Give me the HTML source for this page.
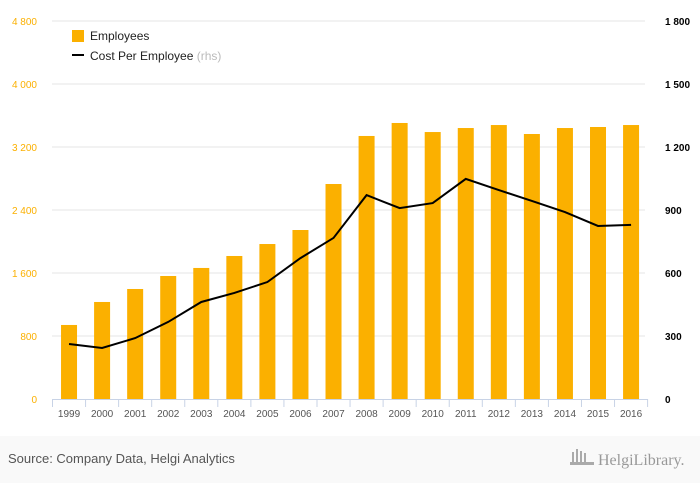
<!DOCTYPE html>
<html><head><meta charset="utf-8"><style>
body{margin:0;width:700px;height:483px;background:#fff;font-family:"Liberation Sans",sans-serif;overflow:hidden}
svg{display:block}
</style></head><body>
<svg id="c" width="700" height="483">
<rect x="0" y="436" width="700" height="47" fill="#f9f9f9"/>
<g id="grid"></g><g id="bars"></g><g id="line"></g><g id="axes"></g>
<g>
<rect x="72" y="30" width="12" height="12" fill="#fbb000"/>
<text x="90" y="40" font-size="12" fill="#222">Employees</text>
<line x1="72" y1="55" x2="84" y2="55" stroke="#000" stroke-width="2"/>
<text x="90" y="60" font-size="12" fill="#222">Cost Per Employee <tspan fill="#bbb">(rhs)</tspan></text>
</g>
<text x="8" y="463" font-size="13" fill="#555">Source: Company Data, Helgi Analytics</text>
<text x="598" y="465" font-size="16" fill="#999" font-family="Liberation Serif,serif">HelgiLibrary.</text>
<g fill="#aaa"><rect x="572" y="452" width="2" height="12"/><rect x="576" y="449" width="2" height="15"/><rect x="580" y="451" width="2" height="13"/><rect x="584" y="453" width="2" height="11"/><rect x="570" y="462" width="24" height="3"/></g>
</svg>
<script>
const years=["1999","2000","2001","2002","2003","2004","2005","2006","2007","2008","2009","2010","2011","2012","2013","2014","2015","2016"];
const employees=[940,1232,1397,1562,1664,1816,1968,2146,2730,3340,3505,3390,3441,3479,3365,3441,3454,3479];
const costPerEmployee=[262,243,290,367,462,505,557,671,767,971,909,933,1048,995,943,890,824,829];
const leftTicks=[0,800,1600,2400,3200,4000,4800];
const rightTicks=[0,300,600,900,1200,1500,1800];
const NS="http://www.w3.org/2000/svg";
const x0=52.5,x1=647.6,yTop=21,yBot=399;
const step=(x1-x0)/years.length;
const xC=i=>x0+step*(i+0.5);
const yL=v=>yBot-(v/4800)*(yBot-yTop);
const yR=v=>yBot-(v/1800)*(yBot-yTop);
function mk(tag,attrs,parent){const e=document.createElementNS(NS,tag);for(const k in attrs)e.setAttribute(k,attrs[k]);document.getElementById(parent).appendChild(e);return e;}
leftTicks.forEach((t,i)=>{
  if(t>0){const g=mk('line',{x1:52,x2:645,y1:yL(t),y2:yL(t),stroke:'#e6e6e6'},'grid');
  
  }
  const tx=mk('text',{x:37,y:yL(t)+4,'font-size':10,fill:'#fbb000','text-anchor':'end'},'axes');
  tx.textContent=t===0?'0':t.toLocaleString('en-US').replace(',',' ');
  
  
});
rightTicks.forEach(t=>{
  const tx=mk('text',{x:665,y:yR(t)+4,'font-size':10,fill:'#000','font-weight':'bold','text-anchor':'start'},'axes');
  tx.textContent=t>=1000?t.toLocaleString('en-US').replace(',',' '):String(t);
  
  
});
employees.forEach((v,i)=>{
  const r=mk('rect',{x:xC(i)-8,y:yL(v),width:16,height:yBot-yL(v),fill:'#fbb000'},'bars');
  
  
  const tx=mk('text',{x:xC(i),y:417,'font-size':10,fill:'#555','text-anchor':'middle'},'axes');
  tx.textContent=years[i];
  
  
});
const ax=mk('line',{x1:x0,x2:x1,y1:yBot+0.5,y2:yBot+0.5,stroke:'#c8d3e6'},'axes');


for(let i=0;i<=years.length;i++){const t=mk('line',{x1:x0+step*i,x2:x0+step*i,y1:yBot,y2:yBot+8,stroke:'#c8d3e6'},'axes');

}
const p=mk('polyline',{points:costPerEmployee.map((v,i)=>xC(i)+','+yR(v)).join(' '),fill:'none',stroke:'#000','stroke-width':2},'line');


</script>
</body></html>
